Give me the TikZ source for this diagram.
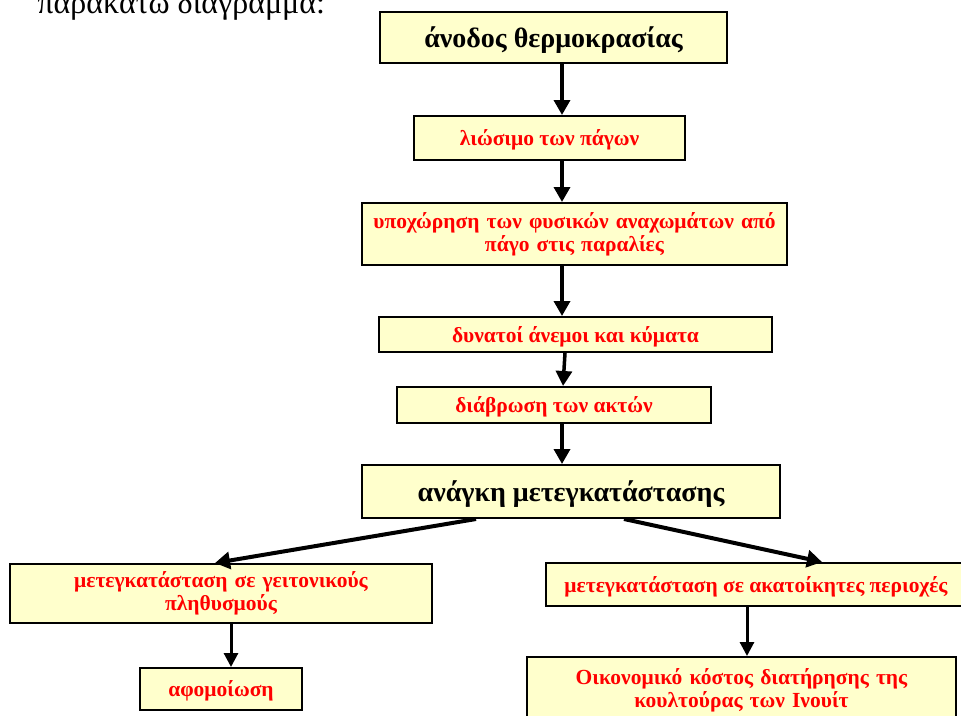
\documentclass[tikz,border=0pt]{standalone}
\usepackage{fontspec}
\setmainfont{Liberation Serif}
\usetikzlibrary{arrows.meta}
\definecolor{boxfill}{HTML}{FFFFCC}
\definecolor{txtred}{HTML}{FF0000}
\tikzset{
  box/.style={draw=black, line width=2pt, fill=boxfill, inner sep=0pt, align=center},
  oneline/.style={text depth=0pt},
  redtxt/.style={text=txtred, font=\fontsize{21.5}{23}\selectfont\bfseries},
  arr/.style={line width=3.5pt, -{Triangle[length=15pt,width=16pt]}},
  arrdiag/.style={line width=4pt, -{Triangle[length=15pt,width=17pt]}},
  arrthin/.style={line width=3pt, -{Triangle[length=14pt,width=14pt]}},
}
\begin{document}
\begin{tikzpicture}[x=1pt,y=-1pt]
\useasboundingbox (0,0) rectangle (961,715);
\clip (0,0) rectangle (961,715);
\node[anchor=base west, font=\fontsize{32}{36}\selectfont] (intro) at (34,13) {παρακάτω διάγραμμα:};
\node[box, oneline, minimum width=347pt, minimum height=51pt, font=\fontsize{28}{32}\selectfont\bfseries] (B1) at (553.5,37.5) {άνοδος θερμοκρασίας};
\node[box, oneline, redtxt, minimum width=271pt, minimum height=44pt] (B2) at (549.5,138) {λιώσιμο των πάγων};
\node[box, redtxt, minimum width=425pt, minimum height=62pt, text width=420pt] (B3) at (574.5,234) {υποχώρηση των φυσικών αναχωμάτων από\\πάγο στις παραλίες};
\node[box, oneline, redtxt, minimum width=393pt, minimum height=35pt] (B4) at (575.5,334.5) {δυνατοί άνεμοι και κύματα};
\node[box, oneline, redtxt, minimum width=314pt, minimum height=36pt] (B5) at (554,405) {διάβρωση των ακτών};
\node[box, oneline, minimum width=418pt, minimum height=53pt, font=\fontsize{28}{32}\selectfont\bfseries] (B6) at (571,491.5) {ανάγκη μετεγκατάστασης};
\node[box, redtxt, minimum width=422pt, minimum height=59pt, text width=415pt] (B7) at (221,593.5) {μετεγκατάσταση σε γειτονικούς\\πληθυσμούς};
\node[box, oneline, redtxt, minimum width=162pt, minimum height=42pt] (B8) at (221,689) {αφομοίωση};
\node[box, oneline, redtxt, minimum width=420pt, minimum height=43pt] (B9) at (756,584.5) {μετεγκατάσταση σε ακατοίκητες περιοχές};
\node[box, redtxt, minimum width=429pt, minimum height=66pt, text width=420pt] (B10) at (741.5,690) {Οικονομικό κόστος διατήρησης της\\κουλτούρας των Ινουίτ};
\coordinate (xa) at (562,0);
\coordinate (xb) at (565,0);
\coordinate (xc) at (563,0);
\coordinate (xl) at (231,0);
\coordinate (xr) at (747,0);
\coordinate (dl1) at (476,0);
\coordinate (dl2) at (215,0);
\coordinate (dr1) at (624,0);
\coordinate (dr2) at (822,0);
\draw[arr] (B1.south -| xa) -- (B2.north -| xa);
\draw[arr] (B2.south -| xa) -- (B3.north -| xa);
\draw[arr] (B3.south -| xa) -- (B4.north -| xa);
\draw[arr] (B4.south -| xb) -- (B5.north -| xc);
\draw[arr] (B5.south -| xa) -- (B6.north -| xa);
\draw[arrdiag] (B6.south -| dl1) -- (B7.north -| dl2);
\draw[arrdiag] (B6.south -| dr1) -- (B9.north -| dr2);
\draw[arrthin] (B7.south -| xl) -- (B8.north -| xl);
\draw[arrthin] (B9.south -| xr) -- (B10.north -| xr);
\end{tikzpicture}
\end{document}
